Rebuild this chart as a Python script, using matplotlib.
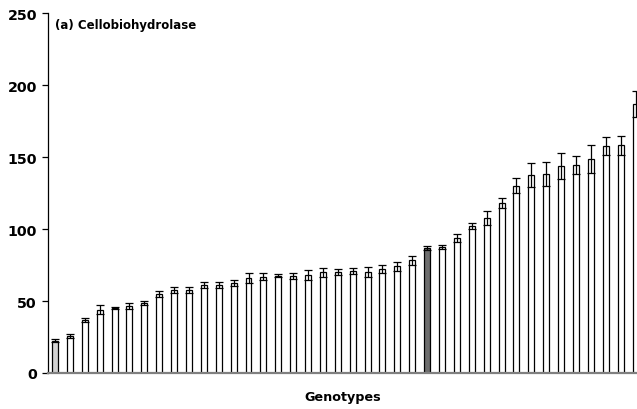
import matplotlib
matplotlib.use("Agg")
import matplotlib.pyplot as plt
import numpy as np

values = [22.4, 25.9, 36.8, 44.0, 45.0, 46.6, 48.8, 54.9, 57.4, 57.6,
          61.1, 61.0, 62.6, 66.2, 66.9, 67.6, 67.4, 68.3, 69.9, 70.4,
          70.6, 70.4, 72.2, 74.1, 78.2, 86.6, 87.7, 93.8, 102.0, 107.6,
          118.3, 130.1, 137.5, 138.2, 144.0, 144.7, 148.4, 157.4, 158.1, 186.8]
errors = [1.0, 1.5, 1.5, 3.0, 0.6, 2.0, 1.5, 2.0, 2.0, 2.0,
          2.0, 2.0, 2.0, 3.5, 2.5, 1.0, 2.0, 3.5, 3.0, 2.0,
          2.0, 3.5, 2.5, 3.0, 3.0, 1.5, 1.5, 3.0, 2.0, 5.0,
          3.5, 5.1, 8.6, 8.6, 9.0, 6.3, 9.7, 6.3, 6.7, 8.8]
highlight_light = 0
highlight_dark = 25
yticks = [0, 50, 100, 150, 200, 250]
title = "(a) Cellobiohydrolase"
xlabel = "Genotypes"

plt.rcParams['font.family'] = ['DejaVu Sans']

fig = plt.figure(figsize=(6.37, 4.10), dpi=100)
ax = fig.add_axes([48/637, 1-374/410, 1-48/637, (374-14)/410])

x = np.arange(len(values))
colors = ['white'] * len(values)
colors[highlight_light] = '#d3d3d3'
colors[highlight_dark] = '#6e6e6e'
ax.bar(x, values, width=0.4, color=colors, edgecolor='black', linewidth=0.9, zorder=2)
ax.errorbar(x, values, yerr=errors, fmt='none', ecolor='black', elinewidth=0.9,
            capsize=3, capthick=0.9, zorder=3)

ax.set_xlim(-0.47, 39.1)
ax.set_ylim(0, 250)
ax.set_yticks(yticks)
ax.set_yticklabels([str(t) for t in yticks], fontsize=10.3, fontweight='bold')
ax.set_xticks([])
ax.spines['top'].set_visible(False)
ax.spines['right'].set_visible(False)
ax.spines['left'].set_color('black')
ax.spines['left'].set_linewidth(0.9)
ax.spines['bottom'].set_color('#808080')
ax.spines['bottom'].set_linewidth(1.6)
ax.tick_params(axis='y', direction='out', length=4, width=0.9, pad=4)

ax.text(0.012, 0.985, title, transform=ax.transAxes, fontsize=8.5, fontweight='bold',
        va='top', ha='left')
ax.set_xlabel(xlabel, fontsize=9.2, fontweight='bold', labelpad=12)

fig.savefig('out.png', dpi=100)
